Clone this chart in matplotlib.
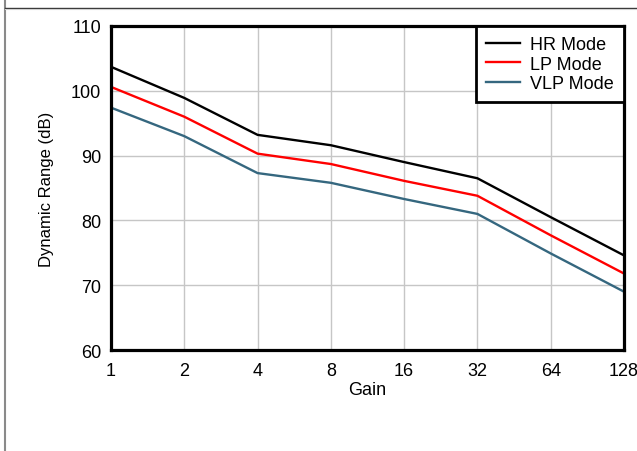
import matplotlib.pyplot as plt
from matplotlib.lines import Line2D

plt.rcParams['font.family'] = ['Liberation Sans', 'DejaVu Sans']

# Data
gain = [1, 2, 4, 8, 16, 32, 64, 128]
gain_labels = ["1", "2", "4", "8", "16", "32", "64", "128"]
hr_mode = [103.7, 98.9, 93.2, 91.6, 89.0, 86.5, 80.5, 74.6]
lp_mode = [100.6, 96.0, 90.3, 88.7, 86.1, 83.8, 77.7, 71.8]
vlp_mode = [97.4, 93.0, 87.3, 85.8, 83.3, 81.0, 74.9, 69.0]

fig = plt.figure(figsize=(6.37, 4.52), dpi=100)

# Page frame lines (cropped datasheet border)
fig.add_artist(Line2D([4.5 / 637, 4.5 / 637], [0, 1], color="#8a8a8a", lw=1.5))
fig.add_artist(Line2D([4.5 / 637, 1], [1 - 8.5 / 452, 1 - 8.5 / 452], color="#333333", lw=1.0))
fig.add_artist(Line2D([4.5 / 637, 1], [1 - 9.8 / 452, 1 - 9.8 / 452], color="#d0d0d0", lw=0.8))

ax = fig.add_axes([111 / 637, 1 - 351 / 452, 513 / 637, 324 / 452])

ax.plot(gain, hr_mode, color="black", lw=1.7, label="HR Mode")
ax.plot(gain, lp_mode, color="#ff0000", lw=1.7, label="LP Mode")
ax.plot(gain, vlp_mode, color="#35677f", lw=1.7, label="VLP Mode")

ax.set_xscale("log", base=2)
ax.set_xlim(1, 128)
ax.set_ylim(60, 110)
ax.set_xticks(gain)
ax.set_xticklabels(gain_labels)
ax.set_yticks([60, 70, 80, 90, 100, 110])
ax.minorticks_off()
ax.tick_params(length=0, labelsize=13)
ax.tick_params(axis="x", pad=9)
ax.tick_params(axis="y", pad=7)

ax.grid(True, color="#c6c6c6", lw=1.0)
ax.set_axisbelow(True)
for sp in ax.spines.values():
    sp.set_linewidth(2.3)
    sp.set_color("black")

ax.set_xlabel("Gain", fontsize=13, labelpad=1)
ax.set_ylabel("Dynamic Range (dB)", fontsize=12, labelpad=12)

leg = ax.legend(loc="upper right", fontsize=13, fancybox=False, framealpha=1,
                edgecolor="black", borderaxespad=0, handlelength=1.9,
                labelspacing=0.15, handletextpad=0.55, borderpad=0.55)
leg.get_frame().set_linewidth(2.0)

fig.savefig("out.png", dpi=100)
